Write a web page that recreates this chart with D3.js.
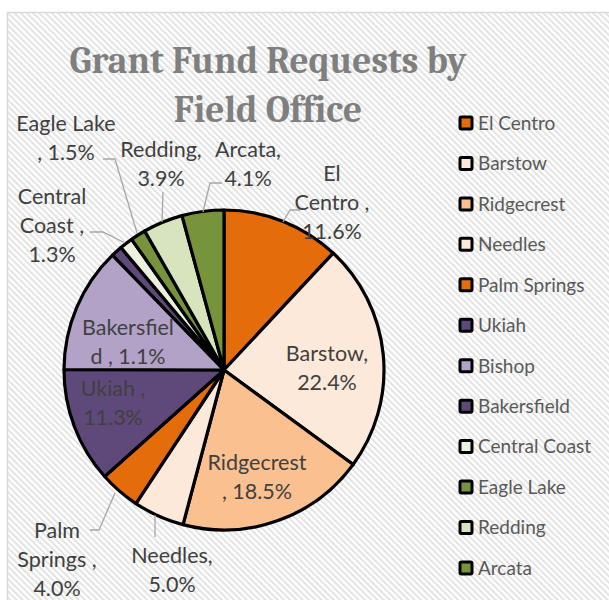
<!DOCTYPE html>
<html>
<head>
<meta charset="utf-8">
<script src="https://cdn.jsdelivr.net/npm/d3@7"></script>
<style>
  body { margin: 0; background: #fff; }
  text { font-family: Lato, "Open Sans", sans-serif; }
</style>
</head>
<body>
<svg id="chart" width="609" height="600"></svg>
<script>
// data (percent of requests)
const offices = ["El Centro", "Barstow", "Ridgecrest", "Needles", "Palm Springs", "Ukiah",
    "Bishop", "Bakersfield", "Central Coast", "Eagle Lake", "Redding", "Arcata"];
const shares = [11.6, 22.4, 18.5, 5.0, 4.0, 11.3, 12.3, 1.1, 1.3, 1.5, 3.9, 4.1];
const colors = ["#E46C0A", "#FDE9D9", "#FAC090", "#FDE9D9", "#E46C0A", "#5F497A",
    "#B3A2C7", "#5F497A", "#EBF1DE", "#77933C", "#D7E4BD", "#77933C"];

// data labels as they appear on the chart (Bishop has none)
const labelLines = [
    ["El", "Centro ,", "11.6%"],
    ["Barstow,", "22.4%"],
    ["Ridgecrest", ", 18.5%"],
    ["Needles,", "5.0%"],
    ["Palm", "Springs ,", "4.0%"],
    ["Ukiah ,", "11.3%"],
    null,
    ["Bakersfiel", "d , 1.1%"],
    ["Central", "Coast ,", "1.3%"],
    ["Eagle Lake", ", 1.5%"],
    ["Redding,", "3.9%"],
    ["Arcata,", "4.1%"]
];
// label centre (first line) and leader line points
const labelPos = [
    { x: 332, y: 173, leader: [[300, 210], [290, 210], [283, 222]] },
    { x: 327, y: 353 },
    { x: 257, y: 462 },
    { x: 172, y: 555, leader: [[155, 537], [155, 515]] },
    { x: 57, y: 530, leader: [[90, 530], [99, 530], [115, 493]] },
    { x: 113, y: 388 },
    null,
    { x: 128, y: 327 },
    { x: 52, y: 196, leader: [[90, 232], [103, 232], [125, 243]] },
    { x: 66, y: 123, leader: [[103, 159], [115, 159], [137, 233]] },
    { x: 161, y: 149, leader: [[163, 192], [162, 222]] },
    { x: 248, y: 149, leader: [[222, 183], [210, 183], [203, 212]] }
];

const svg = d3.select('#chart');
const width = +svg.attr('width');
const height = +svg.attr('height');

// striped background
const defs = svg.append('defs');
const pat = defs.append('pattern')
    .attr('id', 'stripes')
    .attr('patternUnits', 'userSpaceOnUse')
    .attr('width', 4.4)
    .attr('height', 4.4)
    .attr('patternTransform', 'rotate(-45)');
pat.append('rect').attr('width', 4.4).attr('height', 4.4).attr('fill', '#fff');
pat.append('rect').attr('width', 2).attr('height', 4.4).attr('fill', '#e3e3e3');

svg.append('rect')
    .attr('x', 7.5).attr('y', 12.5)
    .attr('width', width).attr('height', height)
    .attr('fill', 'url(#stripes)')
    .attr('stroke', '#d9d9d9')
    .attr('stroke-width', 1.5);

// title
const title = svg.append('g').attr('class', 'title');
const titleLines = ["Grant Fund Requests by", "Field Office"];
title.selectAll('text')
    .data(titleLines)
    .enter()
    .append('text')
    .attr('x', 268)
    .attr('y', (d, i) => 73 + i * 49)
    .attr('text-anchor', 'middle')
    .style('font-family', 'Cambria, "Liberation Serif", "DejaVu Serif", serif')
    .style('font-weight', 'bold')
    .style('font-size', '40px')
    .attr('fill', '#7f7f7f')
    .text(d => d);
// fit first line to the measured width
const w0 = title.select('text').node().getComputedTextLength();
const fs = 40 * 397 / w0;
title.selectAll('text').style('font-size', fs + 'px');

// pie
const cx = 224, cy = 370, radius = 160;
const pie = d3.pie().sort(null).value(d => d);
const arc = d3.arc().innerRadius(0).outerRadius(radius);
const arcs = pie(shares);

const g = svg.append('g').attr('transform', `translate(${cx}, ${cy})`);
g.selectAll('path')
    .data(arcs)
    .enter()
    .append('path')
    .attr('d', arc)
    .attr('fill', (d, i) => colors[i])
    .attr('stroke', '#000')
    .attr('stroke-width', 3.2)
    .attr('stroke-linejoin', 'round');

// leader lines
const line = d3.line();
svg.selectAll('.leader')
    .data(labelPos.filter(p => p && p.leader))
    .enter()
    .append('path')
    .attr('class', 'leader')
    .attr('d', d => line(d.leader))
    .attr('fill', 'none')
    .attr('stroke', '#a6a6a6')
    .attr('stroke-width', 1.3);

// data labels
const lineH = 29;
labelLines.forEach((lines, i) => {
    if (!lines) return;
    const p = labelPos[i];
    const t = svg.append('text')
        .attr('text-anchor', 'middle')
        .attr('fill', '#404040')
        .style('font-size', '21.5px');
    lines.forEach((s, j) => {
        t.append('tspan')
            .attr('x', p.x)
            .attr('y', p.y + j * lineH)
            .attr('dy', '0.36em')
            .text(s);
    });
});

// legend
const legend = svg.append('g').attr('transform', 'translate(460, 123)');
const rows = legend.selectAll('g')
    .data(offices)
    .enter()
    .append('g')
    .attr('transform', (d, i) => `translate(0, ${i * 40.45})`);
rows.append('rect')
    .attr('x', 0).attr('y', -6)
    .attr('width', 12).attr('height', 12)
    .attr('rx', 1.5)
    .attr('fill', (d, i) => colors[i])
    .attr('stroke', '#000')
    .attr('stroke-width', 3);
rows.append('text')
    .attr('x', 18)
    .attr('dy', '0.36em')
    .attr('fill', '#595959')
    .style('font-size', '19px')
    .text(d => d);
</script>
</body>
</html>
